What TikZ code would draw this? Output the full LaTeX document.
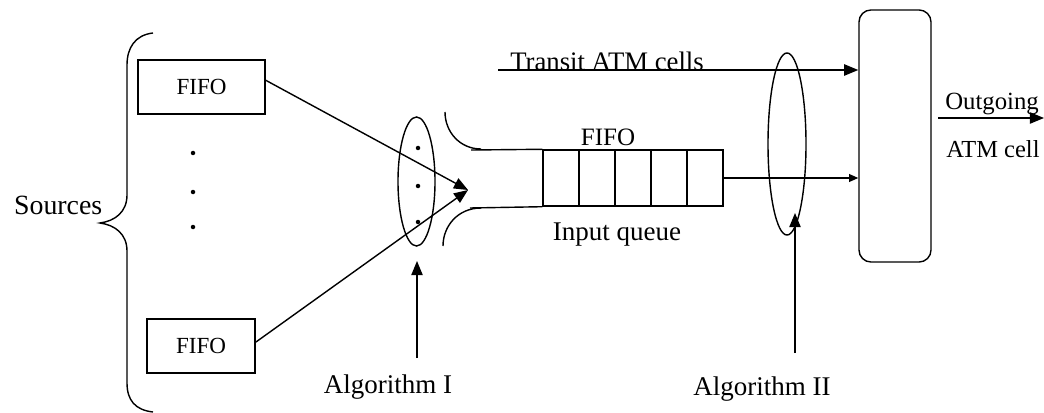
\documentclass[tikz,border=0pt]{standalone}
\usepackage{fontspec}
\setmainfont{Liberation Serif}
\usetikzlibrary{arrows.meta,positioning,shapes.geometric}

\begin{document}
\begin{tikzpicture}[
  x=0.025cm, y=-0.025cm,
  line width=1pt,
  fifo/.style={rectangle, draw, inner sep=0pt, minimum height=1.35cm, font=\fontsize{16.4}{18}\selectfont},
  cell/.style={rectangle, draw, minimum width=0.9cm, minimum height=1.4cm, inner sep=0pt},
  sel/.style={ellipse, draw, inner sep=0pt},
  lbl/.style={inner sep=0pt, font=\fontsize{19.2}{22}\selectfont},
  smalldot/.style={circle, fill, minimum size=3.2pt, inner sep=0pt},
  arr/.style={-{Triangle[length=10pt, width=8pt]}},
  arrsmall/.style={-{Triangle[length=6.5pt, width=5.5pt]}}
]
\useasboundingbox (0,0) rectangle (1044,413);

% sources
\node[fifo, minimum width=3.175cm] (fifoA) at (201.5,87) {FIFO};
\node[fifo, minimum width=2.7cm] (fifoB) at (201,346) {FIFO};
\foreach \y in {153,192,227}
  \node[smalldot] at (193,\y) {};
\draw (153,33) .. controls (135,35) and (127,48) .. (127,65) -- (127,195)
  .. controls (127,212) and (115,221) .. (100,223)
  .. controls (115,225) and (127,234) .. (127,251) -- (127,383)
  .. controls (127,400) and (135,410) .. (153,412);
\node[lbl, font=\fontsize{19.8}{22}\selectfont, anchor=east] (sources) at (103,205) {Sources};

% first selector
\node[sel, minimum width=0.925cm, minimum height=3.225cm] (selA) at (416.5,181.5) {};
\foreach \y in {148,186,222}
  \node[smalldot] at (418,\y) {};
\coordinate (merge) at (468,190);
\draw[arr] (fifoA.6) -- (merge);
\draw[arr] (fifoB.4) -- (merge);

% input queue
\foreach \i in {0,...,4}
  \node[cell] (q\i) at (561+36*\i,178) {};
\draw (445,112) .. controls (445,132) and (460,149) .. (481,149);
\draw (443,246) .. controls (443,226) and (458,208) .. (481,208);
\draw (471,150) -- (q0.north west);
\draw (470,208) -- (q0.south west);
\node[lbl, font=\fontsize{17.8}{20}\selectfont, anchor=base] (qname) at (608,146) {FIFO};
\node[lbl, anchor=base] (qlabel) at (617,240) {Input queue};

% multiplexer
\node[draw, rounded corners=0.3cm, minimum width=1.8cm, minimum height=6.3cm] (switch) at (895,136) {};
\node[sel, minimum width=0.95cm, minimum height=4.55cm] (selB) at (787,144) {};
\coordinate (transit) at (498,70);
\draw[arr] (transit) -- (transit -| switch.west);
\node[lbl, font=\fontsize{19}{22}\selectfont, anchor=base] (transitlbl) at (607,71) {Transit ATM cells};
\draw[arrsmall] (q4.east) -- (q4.east -| switch.west);

% output
\coordinate (outA) at (938,118);
\coordinate (outB) at (1044,118);
\draw[arr] (outA) -- (outB);
\node[lbl, font=\fontsize{17.6}{20}\selectfont, anchor=base] (outlbl) at (992,110) {Outgoing};
\node[lbl, font=\fontsize{17.4}{20}\selectfont, anchor=base] (celllbl) at (993,157) {ATM cell};

% algorithms
\node[lbl, anchor=base] (algI) at (388,393) {Algorithm I};
\node[lbl, anchor=base] (algII) at (762,395) {Algorithm II};
\coordinate (algIfoot) at (417,358);
\coordinate (algIIfoot) at (795,353);
\draw[arr] (algIfoot) -- ++(0,-97);
\draw[arr] (algIIfoot) -- ++(0,-140);
\end{tikzpicture}
\end{document}
